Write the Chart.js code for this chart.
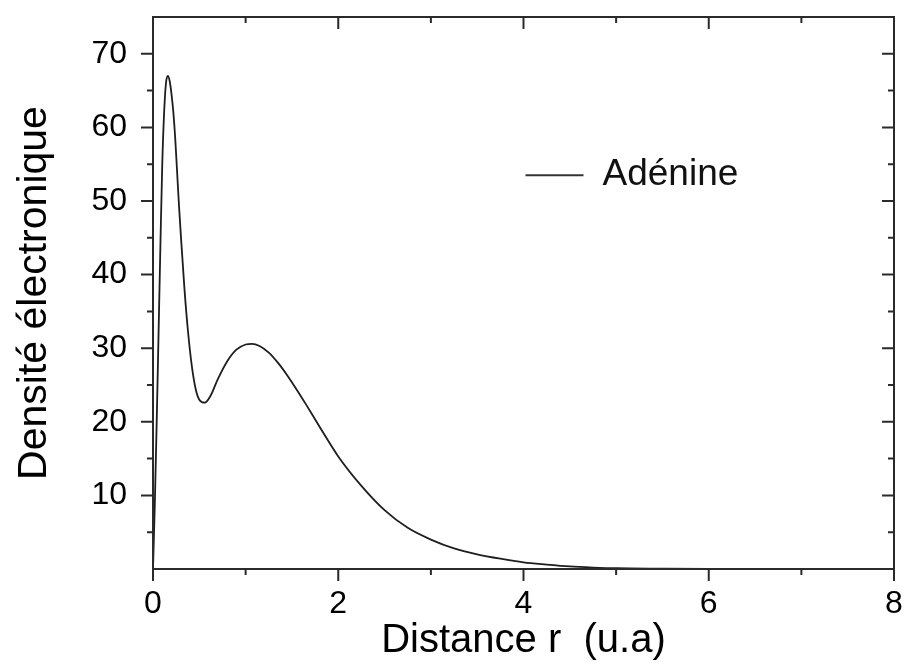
<!DOCTYPE html>
<html>
<head>
<meta charset="utf-8">
<script src="https://cdn.jsdelivr.net/npm/chart.js@4/dist/chart.umd.min.js"></script>
<style>
  html, body { margin: 0; padding: 0; background: #fff; }
  #wrap { width: 904px; height: 666px; }
</style>
</head>
<body>
<div id="wrap"><canvas id="c" width="904" height="666"></canvas></div>
<script>
// Distance r (u.a)
const rValues = [0, 0.02, 0.04, 0.06, 0.08, 0.10, 0.12, 0.14, 0.16, 0.18, 0.20, 0.22, 0.24, 0.26, 0.28, 0.30,
  0.34, 0.38, 0.42, 0.46, 0.50, 0.56, 0.62, 0.70, 0.80, 0.90, 1.00, 1.07, 1.15, 1.25, 1.35, 1.45, 1.55, 1.65, 1.80,
  2.00, 2.25, 2.50, 2.75, 3.00, 3.25, 3.50, 3.75, 4.00, 4.25, 4.50, 4.75, 5.00, 5.50, 6.00, 7.00, 8.00];
// Densité électronique (Adénine)
const densityValues = [0, 9, 20, 32, 44, 55, 62, 66, 67, 66.3, 64.5, 62, 58.5, 54, 49.5, 45.5,
  38, 32, 27.5, 24.5, 23, 22.6, 23.5, 25.8, 28.2, 29.8, 30.5, 30.6, 30.3, 29.4, 28.0, 26.3, 24.4, 22.4, 19.3,
  15.3, 11.3, 8.0, 5.6, 4.0, 2.8, 2.0, 1.4, 0.9, 0.6, 0.35, 0.2, 0.1, 0.05, 0.02, 0, 0];
const seriesName = 'Adénine';
const xTicks = [0, 2, 4, 6, 8];
const xMinorTicks = [1, 3, 5, 7];
const yTicks = [10, 20, 30, 40, 50, 60, 70];
const yMinorTicks = [5, 15, 25, 35, 45, 55, 65];
const xTitle = 'Distance r  (u.a)';
const yTitle = 'Densité électronique';

const FONT = "'Liberation Sans', Arial, sans-serif";
const AXIS_COLOR = '#2a2a2a';

const framePlugin = {
  id: 'frameTicks',
  afterDraw(chart) {
    const { ctx, chartArea: a, scales: { x, y } } = chart;
    ctx.save();
    ctx.strokeStyle = AXIS_COLOR;
    ctx.lineWidth = 2;
    ctx.lineCap = 'butt';
    ctx.strokeRect(a.left, a.top, a.right - a.left, a.bottom - a.top);
    ctx.beginPath();
    const MAJ = 12, MIN = 6;
    xTicks.forEach(v => {
      const px = x.getPixelForValue(v);
      ctx.moveTo(px, a.bottom); ctx.lineTo(px, a.bottom + MAJ);
      ctx.moveTo(px, a.top); ctx.lineTo(px, a.top + MAJ);
    });
    xMinorTicks.forEach(v => {
      const px = x.getPixelForValue(v);
      ctx.moveTo(px, a.bottom); ctx.lineTo(px, a.bottom + MIN);
      ctx.moveTo(px, a.top); ctx.lineTo(px, a.top + MIN);
    });
    yTicks.forEach(v => {
      const py = y.getPixelForValue(v);
      ctx.moveTo(a.left, py); ctx.lineTo(a.left - MAJ, py);
      ctx.moveTo(a.right, py); ctx.lineTo(a.right - MAJ, py);
    });
    yMinorTicks.forEach(v => {
      const py = y.getPixelForValue(v);
      ctx.moveTo(a.left, py); ctx.lineTo(a.left - MIN, py);
      ctx.moveTo(a.right, py); ctx.lineTo(a.right - MIN, py);
    });
    ctx.stroke();

    // legend inside the plot
    const lx = x.getPixelForValue(4.0), ly = y.getPixelForValue(53.5);
    ctx.beginPath();
    ctx.strokeStyle = '#333';
    ctx.lineWidth = 2;
    ctx.moveTo(lx + 2, ly); ctx.lineTo(lx + 60, ly);
    ctx.stroke();
    ctx.fillStyle = '#111';
    ctx.font = '37px ' + FONT;
    ctx.textBaseline = 'alphabetic';
    ctx.textAlign = 'left';
    ctx.fillText(seriesName, lx + 79, ly + 10);
    ctx.restore();
  }
};

function zeroPad(s) { s.paddingTop = 0; s.paddingBottom = 0; s.paddingLeft = 0; s.paddingRight = 0; }

new Chart(document.getElementById('c'), {
  type: 'scatter',
  data: {
    datasets: [{
      label: seriesName,
      data: rValues.map((r, i) => ({ x: r, y: densityValues[i] })),
      showLine: true,
      borderColor: '#1e1e1e',
      borderWidth: 1.8,
      pointRadius: 0,
      cubicInterpolationMode: 'monotone',
      fill: false
    }]
  },
  options: {
    responsive: false,
    animation: false,
    devicePixelRatio: 1,
    layout: { padding: { top: 17, right: 10, left: 0, bottom: 0 } },
    plugins: { legend: { display: false }, tooltip: { enabled: false } },
    scales: {
      x: {
        type: 'linear', min: 0, max: 8,
        afterBuildTicks: s => { s.ticks = xTicks.map(v => ({ value: v })); },
        afterFit: s => { s.height = 97; zeroPad(s); },
        grid: { display: false, drawTicks: false },
        border: { display: false },
        ticks: { color: '#000', padding: 16, font: { size: 32, family: FONT }, maxRotation: 0 },
        title: { display: true, text: xTitle, color: '#000', font: { size: 40, family: FONT }, padding: { top: 0, bottom: 1 } }
      },
      y: {
        type: 'linear', min: 0, max: 75,
        afterBuildTicks: s => { s.ticks = yTicks.map(v => ({ value: v })); },
        afterFit: s => { s.width = 153; zeroPad(s); },
        grid: { display: false, drawTicks: false },
        border: { display: false },
        ticks: { color: '#000', padding: 26, font: { size: 32, family: FONT } },
        title: { display: true, text: yTitle, color: '#000', font: { size: 41, family: FONT }, padding: { top: 10, bottom: 0 } }
      }
    }
  },
  plugins: [framePlugin]
});
</script>
</body>
</html>
